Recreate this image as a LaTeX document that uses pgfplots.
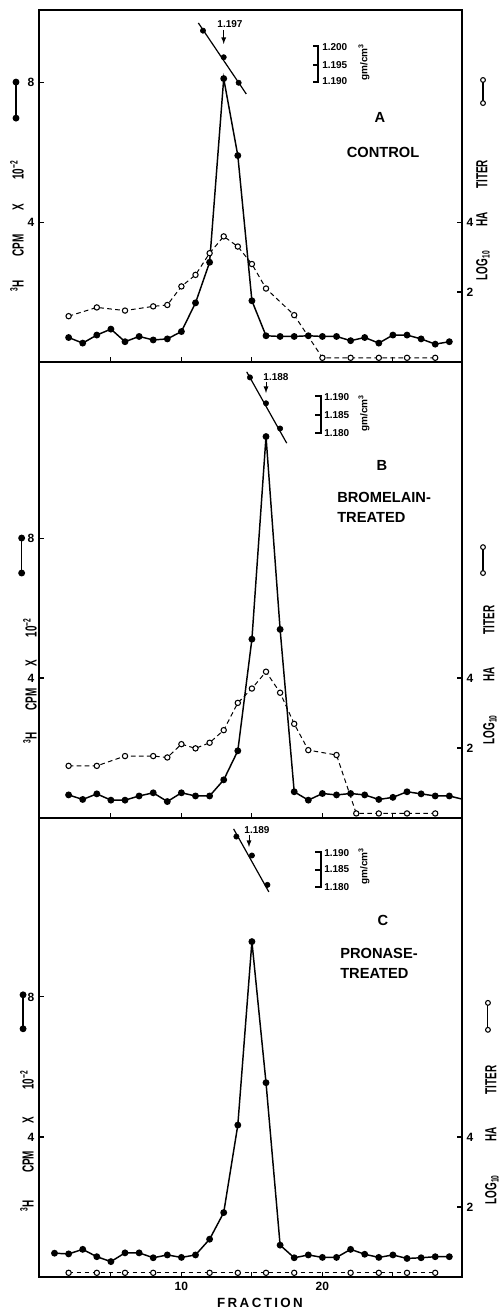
\documentclass[border=0pt]{standalone}
\usepackage{fontspec}
\setmainfont{Liberation Sans}
\usepackage{graphicx}
\usepackage{pgfplots}
\pgfplotsset{compat=1.18}

\newcommand\ticksize{\fontsize{9}{10}\selectfont}

\pgfplotsset{
  panel/.style={
    scale only axis, width=317.25pt,
    xmin=-0.1, xmax=29.9, ymin=0,
    axis line style={line width=1.3pt},
    tick style={black, line width=0.8pt},
    major tick length=4pt, tick align=inside,
    xtick={5,10,15,20,25}, xticklabels={}, xtick pos=left,
    tick label style={font=\bfseries\ticksize},
    /pgf/number format/assume math mode=true,
    clip=false,
  },
  leftside/.style={ytick={4,8}, ytick pos=left},
  rightside/.style={ytick={2,4}, ytick pos=right, yticklabel pos=right, xtick=\empty},
  cpm/.style={black, line width=1.1pt, mark=*, mark size=2pt},
  titer/.style={black, line width=0.75pt, dash pattern=on 3.5pt off 2.5pt,
    mark=*, mark size=2pt, mark options={solid, fill=white, line width=0.8pt}},
  dens/.style={black, line width=0.9pt},
}

% rotated side labels, #1 = gap between words
\newcommand\cpmlabel[1]{\scalebox{0.62}[1]{\textsuperscript{3}H\hspace{#1}CPM\hspace{#1}X\hspace{#1}10\textsuperscript{−2}}}
\newcommand\halabel[1]{\scalebox{0.62}[1]{LOG\textsubscript{10}\hspace{#1}HA\hspace{#1}TITER}}

\begin{document}
\begin{tikzpicture}
\useasboundingbox (0pt,0pt) rectangle (374.25pt,-984.75pt);

% ---------------- A : control
\begin{axis}[panel, leftside, at={(29.25pt,-271.5pt)}, anchor=south west,
    height=264pt, ymax=10.06]
  \addplot[titer] coordinates {
    (2,1.31) (4,1.56) (6,1.47) (8,1.59) (9,1.63) (10,2.16) (11,2.49)
    (12,3.11) (13,3.59) (14,3.30) (15,2.80) (16,2.10) (18,1.34)
    (20,0.12) (22,0.12) (24,0.12) (26,0.12) (28,0.12)};
  \addplot[cpm] coordinates {
    (2,0.70) (3,0.54) (4,0.77) (5,0.94) (6,0.58) (7,0.73) (8,0.63)
    (9,0.66) (10,0.87) (11,1.69) (12,2.85) (13,8.10) (14,5.90) (15,1.75)
    (16,0.75) (17,0.73) (18,0.73) (19,0.75) (20,0.73) (21,0.73) (22,0.61)
    (23,0.70) (24,0.54) (25,0.77) (26,0.77) (27,0.66) (28,0.51) (29,0.58)};
  % density gradient
  \addplot[dens] coordinates {(11.2,9.69) (14.6,7.66)};
  \addplot[only marks, mark=*, mark size=2pt] coordinates {(11.53,9.47) (13,8.71) (14.06,7.98)};
  % keys
  \addplot[cpm] coordinates {(-1.73,8.0) (-1.73,6.97)};
  \addplot[black, line width=0.8pt, mark=*, mark size=1.8pt, mark options={fill=white}]
    coordinates {(31.39,8.06) (31.39,7.4)};
\end{axis}
\begin{axis}[panel, rightside, at={(29.25pt,-271.5pt)}, anchor=south west,
    height=264pt, ymax=10.06]
\end{axis}

% ---------------- B : bromelain
\begin{axis}[panel, leftside, at={(29.25pt,-613.5pt)}, anchor=south west,
    height=342pt, ymax=13.03]
  \addplot[titer] coordinates {
    (2,1.49) (4,1.49) (6,1.77) (8,1.77) (9,1.73) (10,2.11) (11,1.99)
    (12,2.15) (13,2.51) (14,3.29) (15,3.70) (16,4.18) (17,3.58) (18,2.69)
    (19,1.94) (21,1.80) (22.4,0.13) (24,0.13) (26,0.13) (28,0.13)};
  \addplot[cpm] coordinates {
    (2,0.66) (3,0.53) (4,0.69) (5,0.51) (6,0.51) (7,0.63) (8,0.72)
    (9,0.47) (10,0.72) (11,0.63) (12,0.63) (13,1.09) (14,1.92) (15,5.11)
    (16,10.9) (17,5.39) (18,0.75) (19,0.51) (20,0.70) (21,0.66) (22,0.70)
    (23,0.66) (24,0.53) (25,0.59) (26,0.75) (27,0.69) (28,0.63) (29,0.63)};
  \addplot[black, line width=1.1pt] coordinates {(29,0.63) (29.9,0.54)};
  \addplot[dens] coordinates {(14.63,12.75) (17.47,10.71)};
  \addplot[only marks, mark=*, mark size=2pt] coordinates {(14.86,12.59) (16,11.85) (17,11.13)};
  \addplot[cpm] coordinates {(-1.33,8.0) (-1.33,7.0)};
  \addplot[black, line width=0.8pt, mark=*, mark size=1.8pt, mark options={fill=white}]
    coordinates {(31.39,7.74) (31.39,7.0)};
\end{axis}
\begin{axis}[panel, rightside, at={(29.25pt,-613.5pt)}, anchor=south west,
    height=342pt, ymax=13.03]
\end{axis}

% ---------------- C : pronase
\begin{axis}[panel, leftside, at={(29.25pt,-957.75pt)}, anchor=south west,
    height=344.25pt, ymax=13.11, xticklabels={,10,,20,}]
  \addplot[titer] coordinates {
    (2,0.12) (4,0.12) (6,0.12) (8,0.12) (12,0.12) (14,0.12) (16,0.12)
    (18,0.12) (22,0.12) (24,0.12) (26,0.12) (28,0.12)};
  \addplot[cpm] coordinates {
    (1,0.68) (2,0.66) (3,0.79) (4,0.58) (5,0.44) (6,0.69) (7,0.69)
    (8,0.55) (9,0.63) (10,0.56) (11,0.63) (12,1.08) (13,1.84) (14,4.34)
    (15,9.58) (16,5.55) (17,0.91) (18,0.55) (19,0.63) (20,0.56) (21,0.56)
    (22,0.79) (23,0.65) (24,0.56) (25,0.63) (26,0.53) (27,0.55) (28,0.58)
    (29,0.58)};
  \addplot[dens] coordinates {(13.7,12.8) (16.2,11.0)};
  \addplot[only marks, mark=*, mark size=2pt] coordinates {(13.9,12.58) (15,12.04) (16.1,11.2)};
  \addplot[cpm] coordinates {(-1.23,8.06) (-1.23,7.09)};
  \addplot[black, line width=0.8pt, mark=*, mark size=1.8pt, mark options={fill=white}]
    coordinates {(31.74,7.83) (31.74,7.06)};
\end{axis}
\begin{axis}[panel, rightside, at={(29.25pt,-957.75pt)}, anchor=south west,
    height=344.25pt, ymax=13.11]
\end{axis}

% ---------------- annotations, in reference pixels
\begin{scope}[x=0.75pt, y=-0.75pt]
\begin{scope}[every node/.style={inner sep=0pt, font=\bfseries\fontsize{7.5}{8}\selectfont}]
  % A
  \node at (230,24) {1.197};
  \draw[-latex, line width=0.7pt] (223.7,30) -- (223.7,44);
  \draw[line width=0.8pt] (313,46) -- (318,46) -- (318,82) -- (313,82) (313,65) -- (318,65);
  \node[anchor=west] at (322,47) {1.200};
  \node[anchor=west] at (322,65) {1.195};
  \node[anchor=west] at (322,81) {1.190};
  \node[rotate=90] at (364,62) {gm/cm\textsuperscript{3}};
  % B
  \node at (276,377) {1.188};
  \draw[-latex, line width=0.7pt] (266,382) -- (266,393);
  \draw[line width=0.8pt] (315,396) -- (321,396) -- (321,433) -- (315,433) (315,415) -- (321,415);
  \node[anchor=west] at (324,397) {1.190};
  \node[anchor=west] at (324,415) {1.185};
  \node[anchor=west] at (324,433) {1.180};
  \node[rotate=90] at (364,413) {gm/cm\textsuperscript{3}};
  % C
  \node at (257,830) {1.189};
  \draw[-latex, line width=0.7pt] (249,835) -- (249,847);
  \draw[line width=0.8pt] (315,852) -- (321,852) -- (321,887) -- (315,887) (315,870) -- (321,870);
  \node[anchor=west] at (324,853) {1.190};
  \node[anchor=west] at (324,869) {1.185};
  \node[anchor=west] at (324,887) {1.180};
  \node[rotate=90] at (364,866) {gm/cm\textsuperscript{3}};
\end{scope}

\begin{scope}[every node/.style={inner sep=0pt, font=\bfseries\fontsize{11}{15}\selectfont}]
  \node at (380,117) {A};
  \node at (383,152) {CONTROL};
  \node at (382,465) {B};
  \node[anchor=west, align=left] at (337,507) {BROMELAIN-\\TREATED};
  \node at (383,920) {C};
  \node[anchor=west, align=left] at (340,963) {PRONASE-\\TREATED};
\end{scope}

\begin{scope}[every node/.style={inner sep=0pt, rotate=90, font=\bfseries\fontsize{12}{14}\selectfont}]
  \node at (17,226) {\cpmlabel{29pt}};
  \node at (483,220) {\halabel{29pt}};
  \node at (30,681) {\cpmlabel{27pt}};
  \node at (490,675) {\halabel{40pt}};
  \node at (27,1141) {\cpmlabel{33pt}};
  \node at (492,1135) {\halabel{40pt}};
\end{scope}

\node[inner sep=0pt, font=\bfseries\fontsize{10}{12}\selectfont] at (260,1303)
  {\addfontfeature{LetterSpace=18}FRACTION};
\end{scope}
\end{tikzpicture}
\end{document}
